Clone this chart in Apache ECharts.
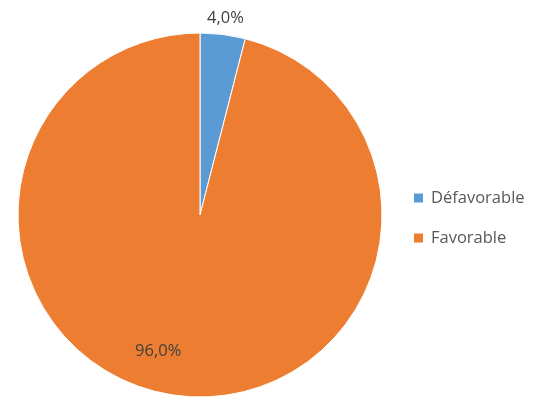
<!DOCTYPE html>
<html>
<head>
<meta charset="utf-8">
<script src="https://cdn.jsdelivr.net/npm/echarts@6/dist/echarts.min.js"></script>
<style>
  html, body { margin: 0; padding: 0; background: #ffffff; }
  #chart { width: 547px; height: 397px; }
</style>
</head>
<body>
<div id="chart"></div>
<script>
// Share of opinions, in percent
const categories = ['Défavorable', 'Favorable'];
const shares = [4.0, 96.0];
const sliceColors = ['#5B9BD5', '#ED7D31'];

const fontFamily = '"Open Sans", "Liberation Sans", sans-serif';

const chart = echarts.init(document.getElementById('chart'), null, { renderer: 'canvas' });

const pieData = categories.map((name, i) => ({
  name,
  value: shares[i],
  itemStyle: { color: sliceColors[i] },
  label: i === 0
    ? { position: 'outside', offset: [-21, -14] }
    : { position: 'inside', offset: [-30, 43] }
}));

chart.setOption({
  animation: false,
  backgroundColor: '#ffffff',
  legend: {
    orient: 'vertical',
    left: 407,
    top: 184,
    itemWidth: 11,
    itemHeight: 11,
    itemGap: 22,
    icon: 'rect',
    textStyle: { fontFamily, fontSize: 16.5, lineHeight: 18, color: '#595959', padding: [0, 0, 0, 2] },
    data: categories
  },
  series: [{
    type: 'pie',
    center: [200, 215],
    radius: 182,
    startAngle: 90,
    clockwise: true,
    avoidLabelOverlap: false,
    itemStyle: { borderColor: '#ffffff', borderWidth: 1 },
    label: {
      show: true,
      fontFamily,
      fontSize: 16.5,
      color: '#404040',
      formatter: p => p.value.toFixed(1).replace('.', ',') + '%'
    },
    labelLine: { show: false, length: 2, length2: 0 },
    emphasis: { disabled: true },
    data: pieData
  }]
});
</script>
</body>
</html>
